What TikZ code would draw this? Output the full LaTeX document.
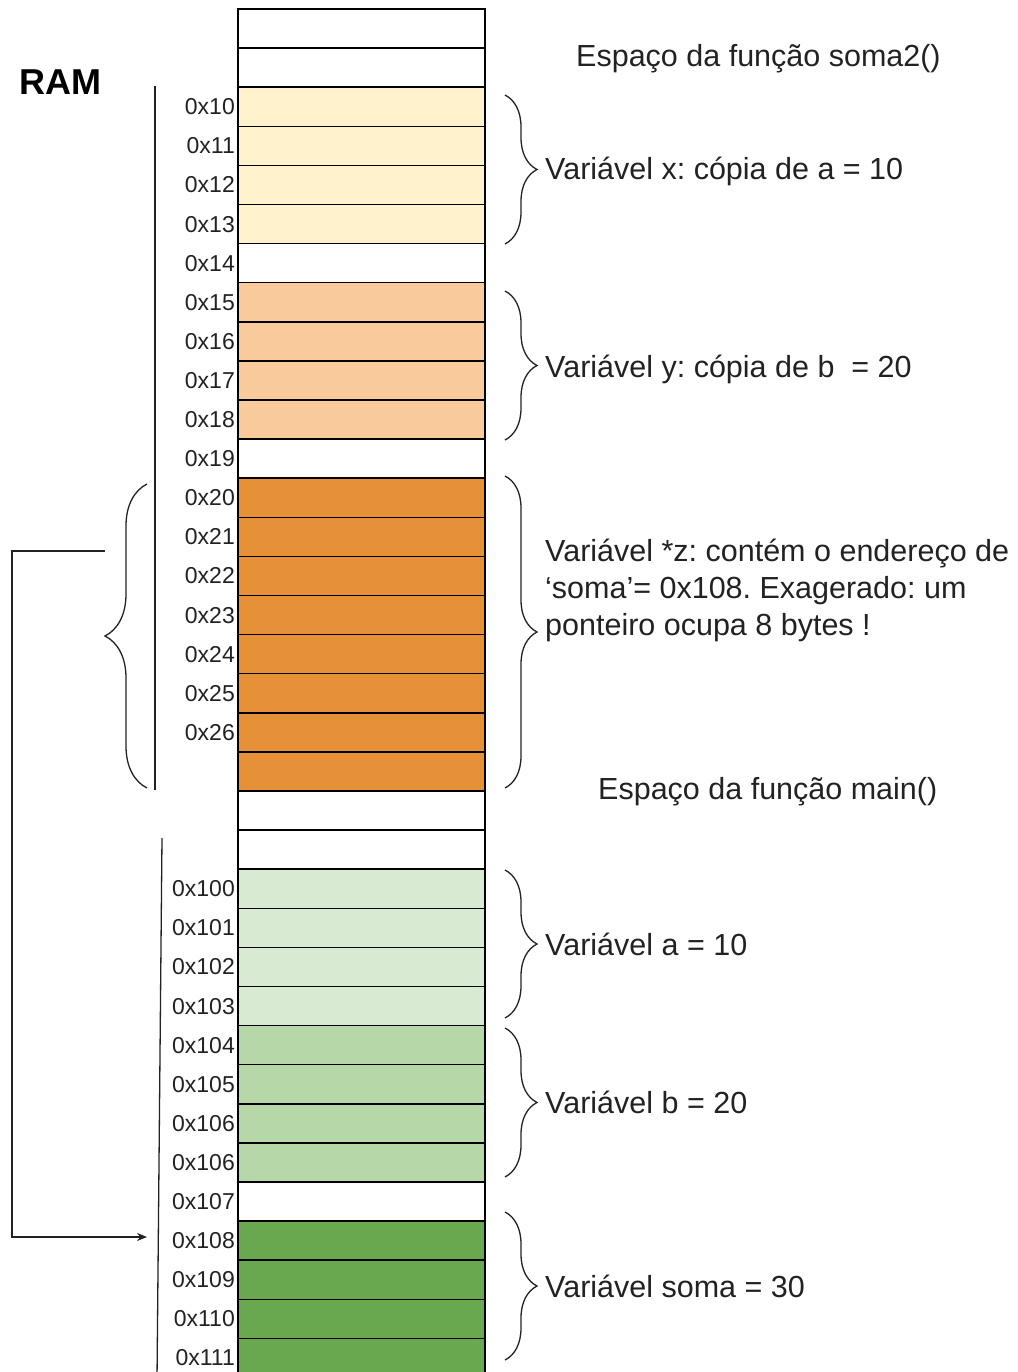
\documentclass[tikz,border=0pt]{standalone}
\usepackage{fontspec}
\setmainfont{Liberation Sans}
\usetikzlibrary{decorations.pathreplacing,arrows.meta,calc}
\definecolor{cyel}{HTML}{FFF2CC}
\definecolor{cpeach}{HTML}{F9CB9C}
\definecolor{corange}{HTML}{E69138}
\definecolor{clg}{HTML}{D9EAD3}
\definecolor{cmg}{HTML}{B6D7A8}
\definecolor{cdg}{HTML}{6AA84F}
\definecolor{ink}{HTML}{222222}
\frenchspacing
\begin{document}
\begin{tikzpicture}[x=1pt,y=-1pt,
 cell/.style={draw=black,line width=1.5pt,minimum width=247pt,minimum height=39.1pt,inner sep=0pt,outer sep=0pt},
 addr/.style={anchor=base east,inner sep=0pt,font=\fontsize{23}{26}\selectfont,text=ink},
 desc/.style={anchor=base west,inner sep=0pt,align=left,font=\fontsize{30.5}{37}\selectfont,text=ink},
 rbrace/.style={decorate,decoration={brace,amplitude=32pt},draw=ink,line width=1.3pt},
 lbrace/.style={decorate,decoration={brace,amplitude=42pt},draw=ink,line width=1.3pt},
 guide/.style={draw=ink,line width=1.3pt}]
\useasboundingbox (0,0) rectangle (1017,1372);
\clip (0,0) rectangle (1017,1372);
% memory cells
\foreach \c [count=\i from 0] in {white,white,cyel,cyel,cyel,cyel,white,cpeach,cpeach,cpeach,cpeach,white,corange,corange,corange,corange,corange,corange,corange,corange,white,white,clg,clg,clg,clg,cmg,cmg,cmg,cmg,white,cdg,cdg,cdg,cdg}
  \node[cell,fill=\c] (r\i) at (361.5,{28.55+39.1*\i}) {};
% addresses
\foreach \i/\t in {2/0x10,3/0x11,4/0x12,5/0x13,6/0x14,7/0x15,8/0x16,9/0x17,10/0x18,11/0x19,12/0x20,13/0x21,14/0x22,15/0x23,16/0x24,17/0x25,18/0x26,22/0x100,23/0x101,24/0x102,25/0x103,26/0x104,27/0x105,28/0x106,29/0x106,30/0x107,31/0x108,32/0x109,33/0x110,34/0x111}
  \node[addr] (l\i) at ($(r\i.west)+(-3,8)$) {\t};
% titles
\node[anchor=base west,inner sep=0pt,font=\fontsize{36}{40}\selectfont\bfseries,text=black] (ram) at (19,95) {RAM};
\node[desc] (t1) at (576,67) {Espaço da função soma2()};
\node[desc] (t2) at (598,799) {Espaço da função main()};
% descriptions
\node[desc] (dx) at (545,180) {Variável x: cópia de a = 10};
\node[desc] (dy) at (545,377) {Variável y: cópia de b \ = 20};
\node[desc] (dz) at (545,635) {Variável *z: contém o endereço de\\‘soma’= 0x108. Exagerado: um\\ponteiro ocupa 8 bytes !};
\node[desc] (da) at (545,955) {Variável a = 10};
\node[desc] (db) at (545,1113) {Variável b = 20};
\node[desc] (ds) at (545,1297) {Variável soma = 30};
% braces
\coordinate (bxT) at (505,95);   \coordinate (bxB) at (505,244);
\coordinate (byT) at (505,291);  \coordinate (byB) at (505,440);
\coordinate (bzT) at (505,476);  \coordinate (bzB) at (505,788);
\coordinate (baT) at (505,870);  \coordinate (baB) at (505,1018);
\coordinate (bbT) at (505,1028); \coordinate (bbB) at (505,1177);
\coordinate (bsT) at (505,1212); \coordinate (bsB) at (505,1360);
\draw[rbrace] (bxT) -- (bxB);
\draw[rbrace] (byT) -- (byB);
\draw[rbrace] (bzT) -- (bzB);
\draw[rbrace] (baT) -- (baB);
\draw[rbrace] (bbT) -- (bbB);
\draw[rbrace] (bsT) -- (bsB);
\coordinate (lbT) at (147,484); \coordinate (lbB) at (147,788);
\draw[lbrace] (lbB) -- (lbT);
% frame guides
\coordinate (g1T) at (155,86);  \coordinate (g1B) at (155,790);
\coordinate (g2T) at (162,838); \coordinate (g2B) at (157,1380);
\draw[guide] (g1T) -- (g1B);
\draw[guide] (g2T) -- (g2B);
% pointer connector
\coordinate (pstart) at (105,551);
\coordinate (pend) at (147,1237);
\draw[guide,-{Stealth[length=10pt,width=8pt]}] (pstart) -- ++(-93,0) |- (pend);
\end{tikzpicture}
\end{document}
